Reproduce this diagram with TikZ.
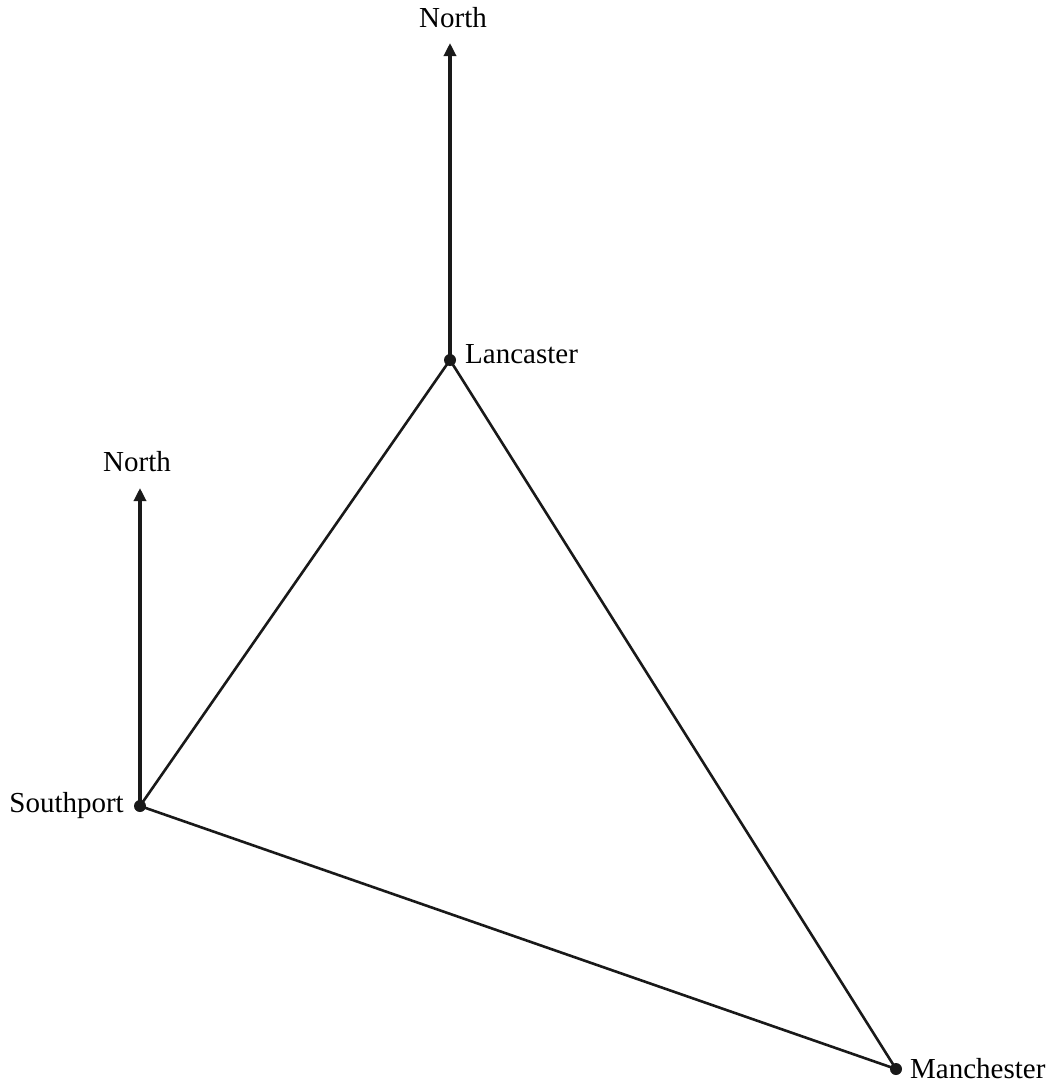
\documentclass[tikz,border=0pt]{standalone}
\usepackage{fontspec}
\setmainfont{Liberation Serif}
\usetikzlibrary{arrows.meta}
\begin{document}
\begin{tikzpicture}[x=1pt,y=-1pt,
  town/.style={circle,fill=black!90,inner sep=0pt,minimum size=12pt},
  townlbl/.style={anchor=base west,inner sep=0pt,font=\fontsize{29}{34}\selectfont},
  leg/.style={line width=2.6pt,black!90},
  north/.style={line width=3.2pt,black!90,-{Triangle[length=13pt,width=12pt]}}]
\useasboundingbox (0,0) rectangle (1058,1085);
% towns
\node[town] (lan) at (450,360) {};
\node[town] (sou) at (140,806) {};
\node[town] (man) at (896,1069) {};
\node[townlbl] (lanlbl) at (465,363) {Lancaster};
\node[townlbl,anchor=base east] (soulbl) at (124,812) {Southport};
\node[townlbl] (manlbl) at (910,1078) {Manchester};
% north arrows
\coordinate (lanN) at (450,43);
\coordinate (souN) at (140,488);
\node[font=\fontsize{29}{34}\selectfont,inner sep=0pt] (lanNlbl) at (453,18) {North};
\node[font=\fontsize{29}{34}\selectfont,inner sep=0pt] (souNlbl) at (137,462) {North};
\draw[north] (lan.center) -- (lanN);
\draw[north] (sou.center) -- (souN);
% triangle
\draw[leg] (sou.center) -- (lan.center) -- (man.center) -- cycle;
\end{tikzpicture}
\end{document}
